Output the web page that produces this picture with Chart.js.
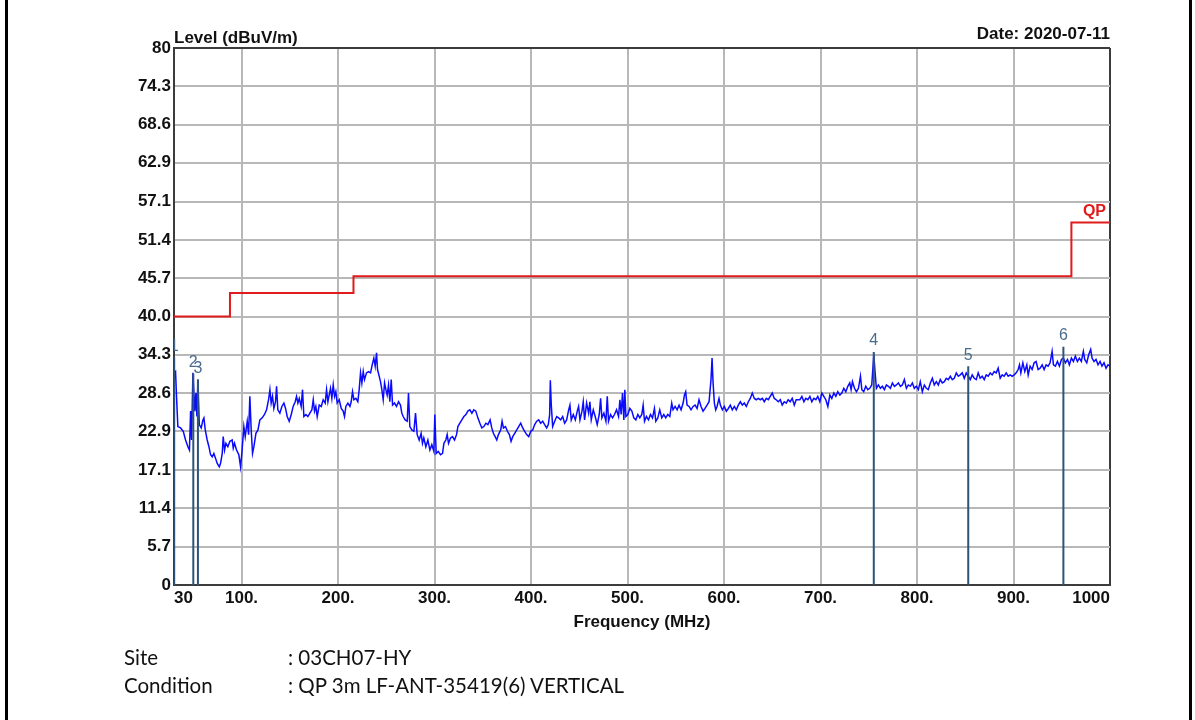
<!DOCTYPE html>
<html>
<head>
<meta charset="utf-8">
<script src="https://cdn.jsdelivr.net/npm/chart.js@4.4.1/dist/chart.umd.min.js"></script>
<style>
  html, body { margin: 0; padding: 0; background: #fff; }
  #wrap { position: relative; width: 1195px; height: 720px; overflow: hidden; }
  #chart { position: absolute; left: 0; top: 0; }
  .bar { position: absolute; top: 0; width: 3px; height: 720px; background: #000; }
  .info { position: absolute; font-family: Lato, "Open Sans", sans-serif; font-size: 20.5px; color: #111; white-space: nowrap; }
</style>
</head>
<body>
<div id="wrap">
  <canvas id="chart" width="1195" height="720"></canvas>
  <div class="bar" style="left:5px"></div>
  <div class="bar" style="left:1189px"></div>
  <div class="info" style="left:124px; top:645px">Site</div>
  <div class="info" style="left:288px; top:645px">: 03CH07-HY</div>
  <div class="info" style="left:124px; top:673px">Condition</div>
  <div class="info" style="left:288px; top:673px">: QP 3m LF-ANT-35419(6) VERTICAL</div>
</div>
<script>
// measured trace, MHz / dBuV/m
const freqs = [
  30.0, 31.6, 32.6, 34.0, 36.8, 39.6, 42.0, 44.4, 46.0, 47.2, 48.2, 49.6, 50.6, 51.6, 52.7, 53.7, 54.8, 56.2, 58.2, 60.0,
  61.0, 62.4, 64.4, 66.2, 67.9, 69.6, 71.3, 73.0, 74.8, 76.9, 78.2, 80.0, 81.0, 82.4, 83.8, 85.8, 87.9, 90.3, 91.4, 92.7,
  94.8, 97.2, 99.0, 100.3, 102.4, 103.8, 105.9, 107.3, 108.6, 110.0, 111.4, 112.8, 114.9, 117.0, 119.0, 121.4, 123.8, 125.9, 128.0, 129.4,
  130.7, 132.1, 133.5, 135.2, 136.3, 137.6, 139.7, 141.8, 143.9, 145.6, 147.3, 149.4, 151.5, 153.5, 155.6, 157.0, 158.4, 159.8, 161.8, 163.2,
  164.6, 166.7, 168.7, 170.8, 172.9, 174.3, 175.6, 177.0, 178.4, 180.5, 182.6, 184.6, 186.7, 188.1, 189.5, 190.8, 192.2, 193.6, 195.0, 196.4,
  197.7, 199.1, 201.2, 203.3, 205.3, 206.7, 208.1, 210.2, 212.3, 213.6, 215.0, 216.4, 218.5, 220.5, 221.9, 223.3, 224.7, 226.1, 227.4, 229.5,
  231.6, 233.7, 235.4, 237.1, 238.5, 239.9, 240.9, 242.3, 244.0, 245.4, 246.8, 248.2, 249.6, 250.9, 252.3, 253.7, 255.1, 256.5, 258.5, 260.6,
  262.7, 264.7, 266.1, 267.5, 269.6, 271.7, 273.0, 274.4, 276.5, 278.6, 280.3, 282.0, 284.1, 286.1, 287.5, 288.9, 291.0, 293.1, 295.2, 297.2,
  299.3, 300.3, 301.7, 303.8, 306.2, 308.3, 309.7, 311.7, 313.1, 314.5, 316.6, 318.6, 320.7, 322.8, 324.2, 326.2, 328.3, 330.4, 332.5, 334.5,
  336.6, 338.7, 340.7, 342.8, 344.9, 347.0, 349.0, 351.1, 353.2, 355.3, 357.6, 359.3, 361.0, 362.8, 364.5, 366.2, 368.6, 370.0, 371.4, 373.5,
  375.5, 377.6, 379.3, 381.0, 383.1, 385.2, 387.2, 389.3, 391.4, 393.4, 395.5, 397.6, 399.7, 401.7, 403.8, 405.9, 407.9, 410.0, 412.1, 414.1,
  416.2, 417.9, 419.3, 420.0, 421.0, 422.4, 424.5, 426.6, 428.6, 430.7, 432.8, 434.8, 436.9, 439.0, 440.3, 441.7, 443.8, 445.9, 447.9, 449.3,
  450.7, 452.8, 454.1, 455.5, 457.6, 459.7, 461.0, 462.4, 464.5, 466.5, 468.6, 470.7, 472.1, 473.4, 475.5, 477.6, 479.0, 480.3, 482.4, 484.5,
  486.5, 488.6, 490.7, 492.1, 493.4, 494.8, 496.2, 497.2, 498.3, 500.3, 502.4, 504.5, 506.5, 508.6, 510.7, 512.7, 514.8, 516.2, 517.6, 519.6,
  521.7, 523.8, 525.9, 527.9, 529.3, 531.4, 533.4, 535.5, 537.6, 539.6, 541.7, 543.8, 545.8, 547.2, 549.3, 551.4, 553.4, 555.5, 557.6, 559.0,
  560.3, 561.7, 563.8, 565.8, 567.9, 570.0, 572.1, 574.1, 576.2, 578.3, 580.3, 582.4, 584.5, 586.5, 587.6, 588.6, 590.0, 591.4, 592.8, 594.8,
  596.2, 598.3, 600.3, 602.4, 604.5, 606.5, 608.6, 610.7, 612.7, 614.8, 616.9, 619.0, 621.0, 623.1, 625.2, 627.2, 629.3, 631.4, 633.4, 635.5,
  637.6, 639.7, 641.7, 643.8, 645.9, 647.9, 650.0, 652.1, 654.1, 656.2, 658.3, 660.3, 662.4, 664.5, 666.5, 668.6, 670.7, 672.8, 674.8, 678.6,
  680.7, 682.8, 684.8, 686.9, 689.0, 691.0, 693.1, 695.2, 697.2, 699.3, 701.4, 703.4, 705.5, 707.6, 709.7, 711.7, 713.8, 715.9, 717.9, 720.0,
  722.1, 724.1, 726.2, 728.3, 730.3, 731.7, 733.1, 735.2, 737.2, 739.3, 741.4, 742.8, 744.8, 746.9, 749.0, 751.0, 753.1, 755.2, 756.5, 757.9,
  760.0, 762.1, 764.1, 766.2, 768.3, 770.3, 772.4, 774.5, 776.6, 778.6, 780.7, 782.8, 784.8, 786.9, 789.0, 791.0, 793.1, 795.2, 797.2, 799.3,
  801.4, 803.4, 805.5, 807.6, 809.7, 811.7, 813.8, 815.9, 817.9, 820.0, 822.1, 824.1, 826.2, 828.3, 830.3, 832.4, 834.5, 836.6, 838.6, 840.7,
  842.8, 844.8, 846.9, 849.0, 851.0, 853.1, 855.2, 857.2, 859.3, 861.4, 863.4, 865.5, 867.6, 869.7, 871.7, 873.8, 875.9, 877.9, 880.0, 882.1,
  884.1, 886.2, 888.3, 890.3, 892.4, 894.5, 896.6, 898.6, 900.7, 902.8, 904.8, 906.2, 907.6, 909.7, 911.7, 913.8, 915.2, 917.2, 919.3, 921.4,
  923.4, 925.5, 927.6, 929.7, 931.7, 933.8, 935.9, 937.9, 940.0, 941.4, 943.4, 945.5, 947.6, 949.7, 951.7, 953.8, 955.9, 957.9, 960.0, 962.1,
  964.1, 966.2, 968.3, 970.3, 972.4, 973.8, 975.9, 977.9, 980.0, 981.4, 983.4, 985.5, 987.6, 989.7, 991.7, 993.8, 995.9, 997.9, 1000.0
];
const levels = [
  31.5, 31.8, 28.1, 23.6, 23.4, 22.9, 21.6, 20.6, 20.1, 25.9, 21.6, 31.6, 28.6, 25.9, 28.6, 25.1, 30.6, 23.9, 23.4, 24.6,
  24.9, 23.1, 21.6, 20.6, 19.4, 19.1, 19.6, 18.9, 18.1, 17.6, 18.1, 19.6, 22.1, 20.1, 21.1, 20.6, 21.4, 21.6, 20.4, 21.1,
  20.1, 19.4, 17.6, 19.6, 23.6, 22.1, 24.4, 22.4, 28.1, 23.1, 19.6, 20.6, 22.6, 23.1, 24.6, 24.9, 25.4, 26.1, 27.6, 29.1,
  27.1, 28.1, 26.3, 27.3, 29.6, 26.1, 25.6, 26.6, 27.1, 26.3, 25.1, 24.4, 25.4, 26.6, 27.3, 28.1, 27.1, 27.8, 26.6, 29.1,
  25.1, 25.4, 25.1, 25.6, 26.1, 27.6, 25.9, 26.6, 25.1, 26.8, 26.6, 27.6, 27.1, 29.1, 27.3, 28.3, 29.3, 27.8, 29.8, 28.1,
  28.8, 27.1, 27.6, 26.3, 25.9, 25.1, 26.6, 27.1, 26.6, 27.3, 28.8, 27.6, 27.8, 27.3, 29.1, 31.6, 30.1, 31.8, 30.6, 31.6,
  31.8, 31.6, 32.8, 33.8, 32.6, 34.6, 32.1, 31.3, 30.3, 29.1, 27.6, 30.1, 29.1, 28.3, 29.8, 27.3, 30.6, 26.8, 27.1, 26.6,
  27.3, 26.8, 25.6, 25.1, 24.6, 24.4, 28.6, 23.6, 23.1, 22.9, 25.6, 22.4, 21.6, 22.6, 21.1, 21.9, 20.6, 21.6, 20.1, 20.9,
  19.9, 25.4, 19.6, 19.9, 19.4, 19.6, 21.1, 21.6, 22.4, 21.1, 21.9, 22.1, 21.6, 22.4, 23.6, 24.1, 24.6, 25.1, 25.4, 25.9,
  26.1, 25.6, 26.1, 25.9, 24.9, 24.1, 23.4, 23.6, 24.1, 23.9, 24.6, 23.4, 22.6, 22.1, 21.6, 22.4, 23.1, 24.4, 23.4, 23.6,
  22.9, 22.4, 21.4, 22.1, 22.6, 23.1, 23.6, 24.1, 23.4, 22.9, 22.4, 22.1, 22.9, 23.1, 23.9, 24.4, 24.6, 24.1, 24.4, 23.9,
  23.4, 23.9, 25.4, 30.5, 26.8, 23.6, 24.4, 25.1, 24.9, 24.6, 25.1, 24.1, 24.6, 26.1, 26.8, 24.6, 25.4, 24.6, 25.9, 26.6,
  24.6, 25.9, 27.3, 24.6, 27.1, 25.6, 27.3, 24.6, 26.1, 25.1, 23.9, 25.4, 27.8, 24.9, 25.6, 24.4, 28.1, 24.4, 25.4, 24.9,
  25.4, 26.1, 25.1, 27.6, 25.4, 28.6, 24.6, 29.1, 25.1, 25.4, 26.3, 25.9, 24.9, 24.6, 25.4, 24.9, 25.4, 26.8, 24.4, 25.1,
  24.6, 25.4, 24.9, 26.3, 24.4, 24.9, 26.1, 24.9, 25.4, 24.9, 25.4, 25.1, 27.1, 26.1, 26.6, 26.1, 26.8, 26.1, 27.1, 28.3,
  28.8, 26.8, 26.6, 26.1, 26.6, 26.8, 26.3, 27.6, 26.6, 25.9, 26.3, 26.8, 27.3, 30.6, 33.8, 30.3, 27.1, 26.1, 26.6, 27.8,
  26.8, 26.1, 26.6, 25.9, 26.3, 26.8, 26.1, 26.6, 26.1, 26.8, 27.3, 26.8, 27.1, 26.6, 27.3, 27.8, 28.6, 27.8, 27.6, 27.8,
  27.6, 27.8, 27.3, 27.8, 27.6, 28.1, 28.6, 27.8, 27.6, 27.3, 27.6, 26.8, 27.3, 27.1, 27.6, 27.3, 27.8, 26.8, 27.6, 27.6,
  28.1, 27.3, 27.8, 27.6, 28.1, 27.3, 27.8, 27.6, 28.1, 27.3, 28.6, 28.1, 27.6, 26.6, 28.3, 27.8, 28.6, 28.1, 28.8, 28.3,
  28.6, 29.3, 28.8, 29.6, 30.1, 29.1, 30.3, 29.3, 28.8, 29.3, 31.1, 29.1, 28.8, 29.6, 29.1, 29.3, 29.8, 34.3, 31.8, 29.3,
  29.8, 29.3, 29.6, 29.1, 29.8, 29.6, 29.3, 30.1, 29.6, 29.8, 30.1, 29.6, 29.8, 30.6, 29.3, 29.8, 29.6, 30.1, 29.3, 29.6,
  29.1, 30.3, 28.8, 29.8, 29.3, 29.1, 30.1, 30.8, 29.8, 30.3, 29.8, 30.6, 30.1, 30.3, 30.8, 30.6, 31.1, 30.6, 30.8, 31.6,
  31.1, 31.3, 31.6, 30.8, 31.6, 31.1, 30.6, 31.3, 30.8, 30.6, 31.6, 30.8, 31.1, 30.6, 31.3, 31.1, 31.6, 31.3, 31.8, 31.6,
  32.3, 30.8, 31.3, 31.1, 31.6, 31.1, 31.3, 31.1, 31.3, 31.6, 32.1, 32.8, 31.6, 33.1, 31.8, 32.8, 31.3, 32.6, 32.1, 33.1,
  33.3, 32.1, 32.3, 32.8, 32.1, 32.8, 32.6, 33.1, 34.8, 32.8, 32.6, 33.3, 32.6, 33.6, 33.8, 33.1, 33.6, 32.8, 33.8, 33.3,
  34.1, 33.3, 33.8, 33.3, 34.8, 33.6, 33.1, 34.3, 35.1, 33.8, 33.3, 33.6, 32.8, 33.3, 32.6, 33.1, 32.3, 32.8, 32.6
];

// FCC class B 3 m quasi-peak limit
const limitFreqs = [30, 88, 216, 960, 1000];
const limitLevels = [40, 43.5, 46, 54, 54];

const markerNames = ['1', '2', '3', '4', '5', '6'];
const markerFreqs = [30.2, 50.0, 54.8, 755.2, 853.1, 951.7];
const markerLevels = [33.9, 31.5, 30.6, 34.7, 32.6, 35.5];

const xTicks = [30, 100, 200, 300, 400, 500, 600, 700, 800, 900, 1000];
const xTickLabels = ['30', '100.', '200.', '300.', '400.', '500.', '600.', '700.', '800.', '900.', '1000'];
const yTicks = [0, 5.7, 11.4, 17.1, 22.9, 28.6, 34.3, 40.0, 45.7, 51.4, 57.1, 62.9, 68.6, 74.3, 80];
const yTickLabels = ['0', '5.7', '11.4', '17.1', '22.9', '28.6', '34.3', '40.0', '45.7', '51.4', '57.1', '62.9', '68.6', '74.3', '80'];

const FONT = '"Liberation Sans", Arial, sans-serif';
const GRID = '#b8b8b8';
const FRAME = '#3c3c3c';
const MARKER = '#2e5478';

const markerLine = [];
markerFreqs.forEach((f, i) => {
  markerLine.push({ x: f, y: 0 }, { x: f, y: markerLevels[i] }, { x: f, y: null });
});

const labelsPlugin = {
  id: 'labels',
  afterDatasetsDraw(chart) {
    const { ctx, chartArea, scales } = chart;
    const x = scales.x;
    const y = scales.y;

    // marker numbers
    ctx.save();
    ctx.beginPath();
    ctx.rect(chartArea.left, chartArea.top, chartArea.right - chartArea.left, chartArea.bottom - chartArea.top);
    ctx.clip();
    ctx.font = '16px ' + FONT;
    ctx.fillStyle = '#4a6c8e';
    ctx.textAlign = 'center';
    ctx.textBaseline = 'bottom';
    markerNames.forEach((n, i) => {
      ctx.fillText(n, x.getPixelForValue(markerFreqs[i]), y.getPixelForValue(markerLevels[i]) - 3);
    });
    ctx.restore();

    ctx.save();
    ctx.font = 'bold 16px ' + FONT;
    ctx.fillStyle = '#e01b1b';
    ctx.textAlign = 'right';
    ctx.textBaseline = 'bottom';
    ctx.fillText('QP', chartArea.right - 4, y.getPixelForValue(limitLevels[limitLevels.length - 1]) - 3);

    ctx.fillStyle = '#111';
    ctx.font = 'bold 17px ' + FONT;
    ctx.textAlign = 'left';
    ctx.textBaseline = 'alphabetic';
    ctx.fillText('Level (dBuV/m)', chartArea.left, chartArea.top - 5);
    ctx.textAlign = 'right';
    ctx.fillText('Date: 2020-07-11', chartArea.right, chartArea.top - 9);
    ctx.textAlign = 'center';
    ctx.fillText('Frequency (MHz)', (chartArea.left + chartArea.right) / 2, chartArea.bottom + 42);
    ctx.restore();
  },
};

new Chart(document.getElementById('chart'), {
  type: 'line',
  data: {
    datasets: [
      {
        data: markerLine,
        borderColor: MARKER,
        borderWidth: 2,
        pointRadius: 0,
        spanGaps: false,
      },
      {
        data: freqs.map((f, i) => ({ x: f, y: levels[i] })),
        borderColor: '#0a0aff',
        borderWidth: 1.5,
        pointRadius: 0,
      },
      {
        data: limitFreqs.map((f, i) => ({ x: f, y: limitLevels[i] })),
        borderColor: '#e01b1b',
        borderWidth: 2,
        pointRadius: 0,
        stepped: 'before',
      },
    ],
  },
  options: {
    responsive: false,
    animation: false,
    layout: { padding: { top: 48, right: 85, left: 0, bottom: 0 } },
    plugins: {
      legend: { display: false },
      tooltip: { enabled: false },
    },
    scales: {
      x: {
        type: 'linear',
        min: 30,
        max: 1000,
        afterBuildTicks: (scale) => {
          scale.ticks = xTicks.map((v) => ({ value: v }));
        },
        afterFit: (scale) => {
          scale.height = 135;
        },
        ticks: {
          autoSkip: false,
          maxRotation: 0,
          align: 'inner',
          padding: 3,
          color: '#111',
          font: { family: FONT, size: 17, weight: 'bold' },
          callback: (v, i) => xTickLabels[i],
        },
        grid: {
          drawTicks: false,
          lineWidth: 2,
          color: (ctx) => (ctx.tick && ctx.tick.value === 1000 ? FRAME : GRID),
        },
        border: { color: FRAME, width: 2 },
      },
      y: {
        min: 0,
        max: 80,
        afterBuildTicks: (scale) => {
          scale.ticks = yTicks.map((v) => ({ value: v }));
        },
        afterFit: (scale) => {
          scale.width = 174;
        },
        ticks: {
          autoSkip: false,
          padding: 3,
          color: '#111',
          font: { family: FONT, size: 17, weight: 'bold' },
          callback: (v, i) => yTickLabels[i],
        },
        grid: {
          drawTicks: false,
          lineWidth: 2,
          color: (ctx) => (ctx.tick && ctx.tick.value === 80 ? FRAME : GRID),
        },
        border: { color: FRAME, width: 2 },
      },
    },
  },
  plugins: [labelsPlugin],
});
</script>
</body>
</html>
